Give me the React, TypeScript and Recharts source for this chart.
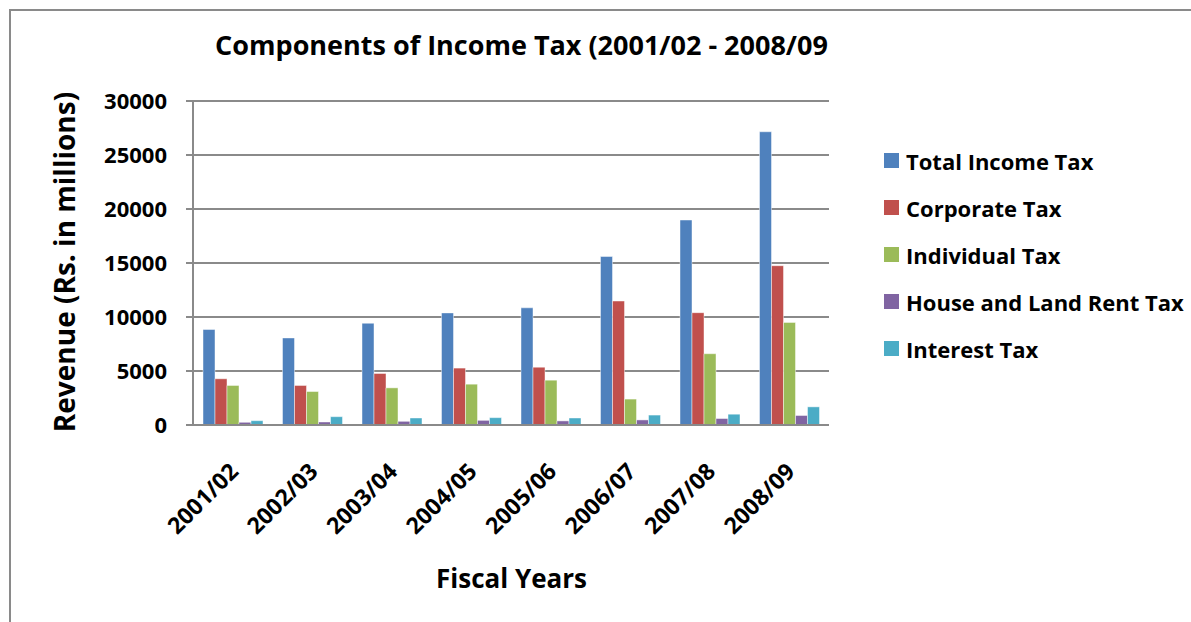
import { Bar, BarChart, CartesianGrid, XAxis, YAxis } from "recharts";

const years = ["2001/02", "2002/03", "2003/04", "2004/05", "2005/06", "2006/07", "2007/08", "2008/09"];
const totalIncomeTax = [8840, 8060, 9420, 10380, 10850, 15600, 18980, 27150];
const corporateTax = [4280, 3660, 4770, 5270, 5350, 11480, 10400, 14750];
const individualTax = [3660, 3100, 3440, 3780, 4150, 2400, 6600, 9500];
const houseLandRentTax = [250, 280, 340, 430, 380, 470, 600, 880];
const interestTax = [400, 770, 650, 680, 650, 920, 1000, 1680];
const yTicks = [0, 5000, 10000, 15000, 20000, 25000, 30000];

const series = [
  { key: "total", name: "Total Income Tax", color: "#4f81bd", values: totalIncomeTax },
  { key: "corporate", name: "Corporate Tax", color: "#c0504d", values: corporateTax },
  { key: "individual", name: "Individual Tax", color: "#9bbb59", values: individualTax },
  { key: "house", name: "House and Land Rent Tax", color: "#8064a2", values: houseLandRentTax },
  { key: "interest", name: "Interest Tax", color: "#4bacc6", values: interestTax },
];

const data = years.map((year, i) => {
  const row: Record<string, string | number> = { year };
  series.forEach((s) => {
    row[s.key] = s.values[i];
  });
  return row;
});

const FONT = "'Open Sans', sans-serif";
const GRID = "#8a8a8a";

function YearTick({ x, y, payload }: { x: number; y: number; payload: { value: string } }) {
  const tx = x + 7;
  const ty = y + 40;
  return (
    <text
      x={tx}
      y={ty}
      transform={`rotate(-45 ${tx} ${ty})`}
      textAnchor="end"
      fontFamily={FONT}
      fontWeight={700}
      fontSize={23}
      fill="#000"
    >
      {payload.value}
    </text>
  );
}

export default function App() {
  return (
    <div style={{ position: "absolute", left: 0, top: 0, width: 1191, height: 622, background: "#fff", overflow: "hidden" }}>
      <div
        style={{
          position: "absolute",
          left: 9,
          top: 9,
          width: 1200,
          height: 640,
          borderLeft: "2px solid #8a8a8a",
          borderTop: "2px solid #8a8a8a",
        }}
      />
      <div
        style={{
          position: "absolute",
          left: 0,
          width: 1043,
          top: 27,
          lineHeight: "36px",
          textAlign: "center",
          fontFamily: FONT,
          fontWeight: 700,
          fontSize: 27,
        }}
      >
        Components of Income Tax (2001/02 - 2008/09
      </div>
      <div
        style={{
          position: "absolute",
          left: 64,
          top: 262,
          transform: "translate(-50%, -50%) rotate(-90deg)",
          whiteSpace: "nowrap",
          fontFamily: FONT,
          fontWeight: 700,
          fontSize: 28,
        }}
      >
        Revenue (Rs. in millions)
      </div>
      <div
        style={{
          position: "absolute",
          left: 0,
          width: 1023,
          top: 560,
          lineHeight: "36px",
          textAlign: "center",
          fontFamily: FONT,
          fontWeight: 700,
          fontSize: 26,
        }}
      >
        Fiscal Years
      </div>
      <div
        style={{
          position: "absolute",
          left: 884,
          top: 137,
          fontFamily: FONT,
          fontWeight: 700,
          fontSize: 22,
          color: "#000",
        }}
      >
        {series.map((s) => (
          <div key={s.key} style={{ display: "flex", alignItems: "center", height: 47, whiteSpace: "nowrap" }}>
            <span style={{ width: 15, height: 15, background: s.color, display: "inline-block", marginRight: 7 }} />
            <span>{s.name}</span>
          </div>
        ))}
      </div>
      <BarChart
        width={1191}
        height={622}
        data={data}
        margin={{ top: 101, right: 362, left: 0, bottom: 137 }}
        barCategoryGap={10}
        barGap={0}
        style={{ position: "absolute", left: 0, top: 0 }}
      >
        <CartesianGrid vertical={false} stroke={GRID} strokeWidth={2} />
        <XAxis
          dataKey="year"
          height={60}
          tick={YearTick}
          tickLine={false}
          axisLine={{ stroke: GRID, strokeWidth: 2 }}
          interval={0}
        />
        <YAxis
          width={193}
          domain={[0, 30000]}
          ticks={yTicks}
          tickSize={7}
          tickLine={{ stroke: GRID, strokeWidth: 2 }}
          axisLine={{ stroke: GRID, strokeWidth: 2 }}
          tick={{ fill: "#000", fontFamily: FONT, fontWeight: 700, fontSize: 22 }}
          tickMargin={19}
        />
        {series.map((s) => (
          <Bar
            key={s.key}
            dataKey={s.key}
            name={s.name}
            fill={s.color}
            stroke="rgba(255,255,255,0.45)"
            strokeWidth={1}
            isAnimationActive={false}
          />
        ))}
      </BarChart>
    </div>
  );
}
